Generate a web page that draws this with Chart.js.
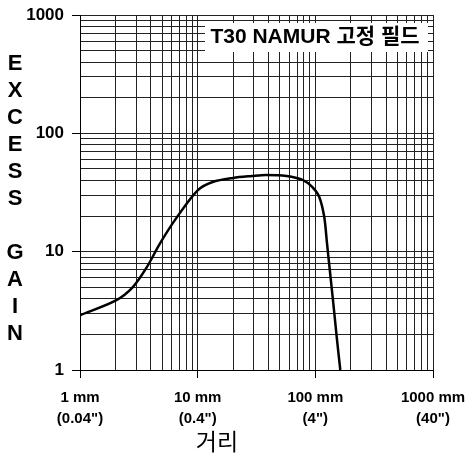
<!DOCTYPE html>
<html lang="ko">
<head>
    <meta charset="UTF-8">
    <title>T30 NAMUR 고정 필드</title>
    <script src="https://cdn.jsdelivr.net/npm/chart.js"></script>
    <style>
        html, body { margin: 0; padding: 0; background: #fff; }
        #wrap { width: 465px; height: 461px; }
    </style>
</head>
<body>
    <div id="wrap"><canvas id="gainChart" width="465" height="461"></canvas></div>

    <script>
        // 거리 (mm) / 초과 이득 값 - 그림에서 읽은 값
        const distances = [1, 2, 2.8, 3.7, 4.8, 6.6, 10, 13.4, 20, 29, 38, 57, 78, 94, 108, 119, 125.6, 132.7, 142, 152, 163];
        const gains     = [2.9, 3.85, 5.0, 7.4, 11.8, 19.3, 33, 38.8, 42, 43.6, 44.5, 43.6, 40.4, 35.2, 29, 19.7, 11.8, 7.0, 3.7, 1.9, 1];

        const xTickLabels = {
            1: ['1 mm', '(0.04")'],
            10: ['10 mm', '(0.4")'],
            100: ['100 mm', '(4")'],
            1000: ['1000 mm', '(40")']
        };
        const yTickLabels = { 1: '1', 10: '10', 100: '100', 1000: '1000' };

        const chartTitle = 'T30 NAMUR 고정 필드';
        const yTitle = 'EXCESS GAIN';
        const xTitle = '거리';

        // 로그 눈금 (1..9 x 10^k)
        const gridVals = [];
        for (let d = 1; d < 1000; d *= 10) {
            for (let m = 1; m < 10; m++) gridVals.push(m * d);
        }
        gridVals.push(1000);

        const FONT = "'Liberation Sans', Arial, sans-serif";

        function isDecade(v) {
            return v === 1 || v === 10 || v === 100 || v === 1000;
        }

        // 축 끝 라벨 때문에 생기는 여백 없애기
        function noEdgePad(s) {
            s.paddingLeft = 0;
            s.paddingRight = 0;
            s.paddingTop = 0;
            s.paddingBottom = 0;
        }

        // 제목 상자, 세로 축 글자, 아래 축 제목
        const extras = {
            id: 'extras',
            afterDatasetsDraw(chart) {
                const ctx = chart.ctx;
                const area = chart.chartArea;
                ctx.save();

                // 제목 상자
                ctx.fillStyle = '#fff';
                ctx.fillRect(area.right - 228, area.top + 8, 223, 29);
                ctx.fillStyle = '#000';
                ctx.font = "bold 21px " + FONT + ", 'Noto Sans CJK KR'";
                ctx.textAlign = 'center';
                ctx.textBaseline = 'middle';
                ctx.fillText(chartTitle, area.right - 118, area.top + 22);

                // EXCESS GAIN 세로 글자
                ctx.font = "bold 22px " + FONT;
                for (let i = 0; i < yTitle.length; i++) {
                    ctx.fillText(yTitle[i], 15, 64 + i * 27);
                }

                // 거리
                ctx.font = "23px 'Noto Sans CJK KR', sans-serif";
                ctx.fillText(xTitle, 217, 441);
                ctx.restore();
            }
        };

        new Chart(document.getElementById('gainChart'), {
            type: 'line',
            data: {
                datasets: [{
                    data: distances.map((d, i) => ({ x: d, y: gains[i] })),
                    borderColor: '#000',
                    borderWidth: 2.5,
                    pointRadius: 0,
                    fill: false,
                    tension: 0.3
                }]
            },
            options: {
                responsive: false,
                animation: false,
                layout: { padding: { top: 15, right: 32, left: 0, bottom: 0 } },
                plugins: {
                    legend: { display: false },
                    tooltip: { enabled: false }
                },
                scales: {
                    x: {
                        type: 'logarithmic',
                        min: 1,
                        max: 1000,
                        afterBuildTicks: s => { s.ticks = gridVals.map(v => ({ value: v })); },
                        afterFit: s => { s.height = 91; noEdgePad(s); },
                        grid: {
                            color: '#222',
                            lineWidth: 1,
                            tickLength: 8,
                            tickColor: c => (c.tick && isDecade(c.tick.value)) ? '#000' : 'rgba(0,0,0,0)'
                        },
                        border: { color: '#000', width: 1 },
                        ticks: {
                            autoSkip: false,
                            maxRotation: 0,
                            padding: 9,
                            color: '#000',
                            font: { family: FONT, size: 15, weight: 'bold', lineHeight: 1.4 },
                            callback: v => xTickLabels[v] || ''
                        }
                    },
                    y: {
                        type: 'logarithmic',
                        min: 1,
                        max: 1000,
                        afterBuildTicks: s => { s.ticks = gridVals.map(v => ({ value: v })); },
                        afterFit: s => { s.width = 80; noEdgePad(s); },
                        grid: {
                            color: '#222',
                            lineWidth: 1,
                            tickLength: 8,
                            tickColor: c => (c.tick && isDecade(c.tick.value)) ? '#000' : 'rgba(0,0,0,0)'
                        },
                        border: { color: '#000', width: 1 },
                        ticks: {
                            autoSkip: false,
                            padding: 8,
                            color: '#000',
                            font: { family: FONT, size: 17, weight: 'bold' },
                            callback: v => yTickLabels[v] || ''
                        }
                    }
                }
            },
            plugins: [extras]
        });
    </script>
</body>
</html>
